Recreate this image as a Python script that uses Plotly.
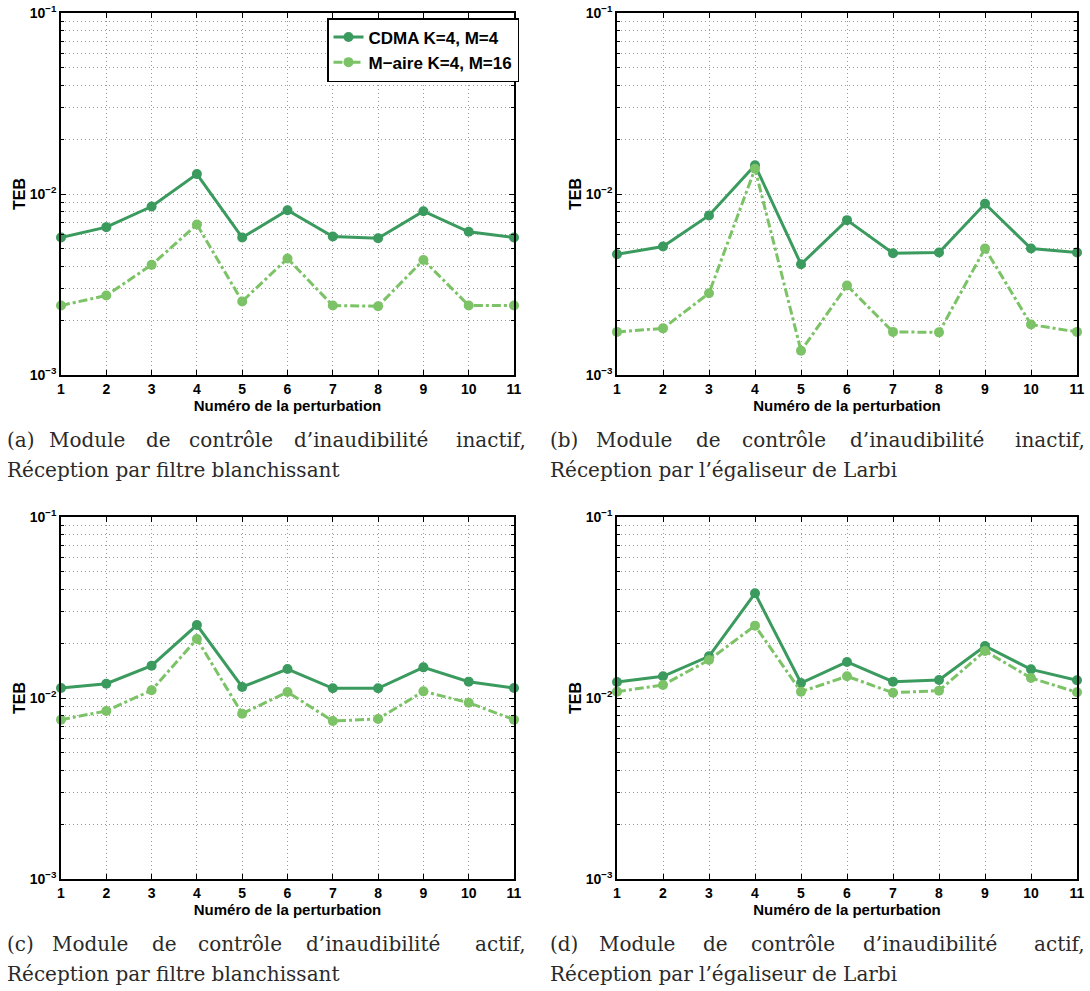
import plotly.graph_objects as go

# ---------------- data ----------------
perturbations = [1, 2, 3, 4, 5, 6, 7, 8, 9, 10, 11]

series_names = ["CDMA K=4, M=4", "M\u2212aire K=4, M=16"]

cdma_a = [0.00575, 0.00656, 0.00853, 0.01288, 0.00575, 0.00814, 0.00582, 0.00570, 0.00803, 0.00618, 0.00575]
maire_a = [0.00242, 0.00275, 0.00406, 0.00678, 0.00255, 0.00440, 0.00242, 0.00240, 0.00432, 0.00242, 0.00242]

cdma_b = [0.00465, 0.00513, 0.00761, 0.01443, 0.00409, 0.00717, 0.00471, 0.00475, 0.00883, 0.00500, 0.00475]
maire_b = [0.00173, 0.00181, 0.00283, 0.01378, 0.00136, 0.00312, 0.00173, 0.00172, 0.00500, 0.00190, 0.00173]

cdma_c = [0.01135, 0.01200, 0.01509, 0.02530, 0.01150, 0.01446, 0.01131, 0.01131, 0.01477, 0.01231, 0.01135]
maire_c = [0.00759, 0.00848, 0.01103, 0.02119, 0.00819, 0.01079, 0.00746, 0.00766, 0.01088, 0.00942, 0.00759]

cdma_d = [0.01226, 0.01318, 0.01699, 0.03790, 0.01210, 0.01581, 0.01231, 0.01257, 0.01938, 0.01440, 0.01252]
maire_d = [0.01084, 0.01180, 0.01622, 0.02510, 0.01084, 0.01318, 0.01070, 0.01098, 0.01819, 0.01290, 0.01075]

y_tickvals = [0.001, 0.01, 0.1]
y_ticktext = ["10<sup>\u22123</sup>", "10<sup>\u22122</sup>", "10<sup>\u22121</sup>"]
y_minor = [m * 10.0 ** e for e in (-3, -2) for m in range(2, 10)]

x_title = "Num\u00e9ro de la perturbation"
y_title = "TEB"

caption_line1 = [
    ["(a)", "Module", "de", "contr\u00f4le", "d\u2019inaudibilit\u00e9", "inactif,"],
    ["(b)", "Module", "de", "contr\u00f4le", "d\u2019inaudibilit\u00e9", "inactif,"],
    ["(c)", "Module", "de", "contr\u00f4le", "d\u2019inaudibilit\u00e9", "actif,"],
    ["(d)", "Module", "de", "contr\u00f4le", "d\u2019inaudibilit\u00e9", "actif,"],
]
caption_line2 = [
    "R\u00e9ception par filtre blanchissant",
    "R\u00e9ception par l\u2019\u00e9galiseur de Larbi",
    "R\u00e9ception par filtre blanchissant",
    "R\u00e9ception par l\u2019\u00e9galiseur de Larbi",
]

panels = [(cdma_a, maire_a), (cdma_b, maire_b), (cdma_c, maire_c), (cdma_d, maire_d)]

# ---------------- layout geometry (pixels) ----------------
W, H = 1090, 991
# plot areas: (x0, x1, ytop, ybottom)
boxes = [
    (61, 514, 13, 375),
    (617, 1077, 13, 375),
    (61, 514, 517, 879),
    (617, 1077, 517, 879),
]
caption_x = [(5, 528), (548, 1087), (5, 528), (548, 1087)]
caption_y = [(440, 470), (440, 470), (944, 974), (944, 974)]
# approximate rendered word widths (px) used to justify the first caption line
word_w = {"(a)": 25, "(b)": 26, "(c)": 24, "(d)": 26, "Module": 80, "de": 25,
          "contr\u00f4le": 88, "d\u2019inaudibilit\u00e9": 148, "inactif,": 71, "actif,": 55}

col_dark = "#3b9a5e"
col_light = "#7cc266"
grid_col = "#9a9a9a"
grid_dash = "1px,3px"
sans = "Liberation Sans, Arial, sans-serif"
tick_font = dict(family=sans, size=14, color="black", weight="bold")
title_font = dict(family=sans, size=15, color="black", weight="bold")
serif = dict(family="DejaVu Serif, Liberation Serif, serif", size=20, color="#2a2a2a")

fig = go.Figure()
layout = dict(
    width=W, height=H,
    margin=dict(l=0, r=0, t=0, b=0, autoexpand=False),
    paper_bgcolor="white", plot_bgcolor="white",
    showlegend=True,
)

annotations = []
for i, ((c, m), (x0, x1, yt, yb)) in enumerate(zip(panels, boxes)):
    n = i + 1
    xa = "x" if n == 1 else f"x{n}"
    ya = "y" if n == 1 else f"y{n}"
    fig.add_trace(go.Scatter(
        x=perturbations, y=c, xaxis=xa, yaxis=ya, name=series_names[0],
        mode="lines+markers", line=dict(color=col_dark, width=3),
        marker=dict(color=col_dark, size=10), cliponaxis=False,
        showlegend=(n == 1), legendgroup="cdma"))
    fig.add_trace(go.Scatter(
        x=perturbations, y=m, xaxis=xa, yaxis=ya, name=series_names[1],
        mode="lines+markers", line=dict(color=col_light, width=3, dash="dashdot"),
        marker=dict(color=col_light, size=10), cliponaxis=False,
        showlegend=(n == 1), legendgroup="maire"))

    xkey = "xaxis" if n == 1 else f"xaxis{n}"
    ykey = "yaxis" if n == 1 else f"yaxis{n}"
    layout[xkey] = dict(
        domain=[x0 / W, x1 / W], anchor=ya, range=[1, 11], automargin=False,
        tickvals=perturbations, ticks="inside", ticklen=5, tickcolor="black",
        showline=True, linecolor="black", linewidth=1.5, mirror="ticks",
        showgrid=True, gridcolor=grid_col, griddash=grid_dash, gridwidth=1,
        zeroline=False, tickfont=tick_font,
        title=dict(text=x_title, font=title_font, standoff=2),
    )
    layout[ykey] = dict(
        domain=[1 - yb / H, 1 - yt / H], anchor=xa, type="log", range=[-3, -1],
        automargin=False,
        tickvals=y_tickvals, ticktext=y_ticktext, ticks="inside", ticklen=5, tickcolor="black",
        showline=True, linecolor="black", linewidth=1.5, mirror="ticks",
        showgrid=True, gridcolor=grid_col, griddash=grid_dash, gridwidth=1,
        minor=dict(tickvals=y_minor, ticks="inside", ticklen=3, tickcolor="black",
                   showgrid=True, gridcolor=grid_col, griddash=grid_dash, gridwidth=1),
        zeroline=False, tickfont=tick_font,
        title=dict(text=y_title, font=dict(family=sans, size=16, color="black", weight="bold"),
                   standoff=0),
    )

    # justified first caption line: equal gaps between words
    cx0, cx1 = caption_x[i]
    cy1, cy2 = caption_y[i]
    words = caption_line1[i]
    widths = [word_w[w] for w in words]
    gap = (cx1 - cx0 - sum(widths)) / (len(words) - 1)
    px = cx0
    for j, w in enumerate(words):
        last = j == len(words) - 1
        annotations.append(dict(
            text=w, xref="paper", yref="paper",
            x=(cx1 if last else px) / W, y=1 - cy1 / H,
            xanchor="right" if last else "left", yanchor="middle",
            showarrow=False, font=serif))
        px += widths[j] + gap
    annotations.append(dict(
        text=caption_line2[i], xref="paper", yref="paper", x=cx0 / W, y=1 - cy2 / H,
        xanchor="left", yanchor="middle", showarrow=False, font=serif))

layout["annotations"] = annotations
layout["legend"] = dict(
    x=519 / W, y=1 - 18 / H, xanchor="right", yanchor="top",
    bgcolor="white", bordercolor="black", borderwidth=1.5,
    font=dict(family=sans, size=17, color="black", weight="bold"),
    tracegroupgap=0, itemwidth=30,
)
fig.update_layout(**layout)
fig.write_html("out.html", config={"displayModeBar": False},
               post_script="document.body.style.margin='0';")
